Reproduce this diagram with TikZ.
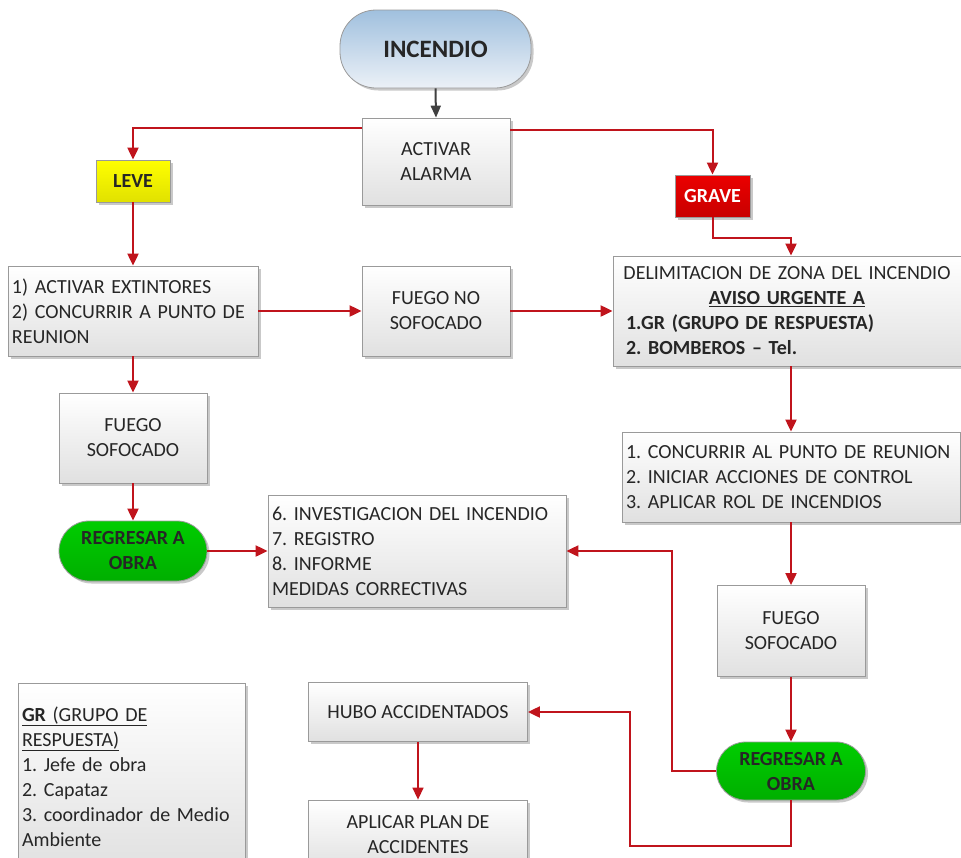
\documentclass[tikz,border=0pt]{standalone}
\usepackage{fontspec}
\setmainfont{Carlito}
\usetikzlibrary{arrows.meta,shadows,calc}
\definecolor{linered}{HTML}{C0141C}
\definecolor{boxborder}{HTML}{9A9A9A}
\tikzset{
  base/.style={draw=boxborder, line width=0.8pt, font=\fontsize{20}{25}\selectfont, text=black!85, inner sep=4pt,
     drop shadow={shadow xshift=2.5pt, shadow yshift=-2.5pt, opacity=0.35, fill=black!60}},
  gbox/.style={base, rectangle, top color=white, bottom color=black!12, align=center},
  lbox/.style={gbox, align=left},
  stadium/.style={base, rounded corners=#1},
  redarr/.style={draw=linered, line width=2pt, -{Triangle[length=12pt,width=11pt]}},
  grayarr/.style={draw=black!75, line width=2pt, -{Triangle[length=12pt,width=10pt]}},
}
\frenchspacing
\begin{document}
\begin{tikzpicture}[x=1pt,y=-1pt]
\useasboundingbox[fill=white] (0,0) rectangle (961,857);

\node[stadium=36pt, top color={rgb,255:red,160;green,192;blue,222}, bottom color={rgb,255:red,236;green,241;blue,247}, minimum width=191pt, minimum height=78pt, font=\fontsize{25}{28}\selectfont\bfseries] (inc) at (435.5,49) {INCENDIO};
\node[gbox, minimum width=148pt, minimum height=87pt] (act) at (436,161.5) {ACTIVAR\\ALARMA};
\node[base, top color=yellow, bottom color={rgb,255:red,225;green,225;blue,0}, minimum width=74pt, minimum height=42pt, font=\fontsize{20}{22}\selectfont\bfseries] (leve) at (133,181) {LEVE};
\node[base, top color={rgb,255:red,235;green,0;blue,0}, bottom color={rgb,255:red,200;green,0;blue,0}, text=white, minimum width=75pt, minimum height=42pt, font=\fontsize{20}{22}\selectfont\bfseries] (grave) at (712.5,196) {GRAVE};

\node[lbox, minimum width=250pt, minimum height=90pt, text width=242pt] (b1) at (133,311) {1) ACTIVAR EXTINTORES\\2) CONCURRIR A PUNTO DE\\REUNION\\[-4pt]};
\node[gbox, minimum width=148pt, minimum height=90pt] (fns) at (436,311) {FUEGO NO\\SOFOCADO};
\node[lbox, minimum width=348pt, minimum height=110pt, text width=340pt] (del) at (787,311) {\makebox[340pt][c]{DELIMITACION DE ZONA DEL INCENDIO}\\\makebox[340pt][c]{\textbf{\underline{AVISO URGENTE A}}}\\\hspace*{9pt}\textbf{1.GR (GRUPO DE RESPUESTA)}\\\hspace*{9pt}\textbf{2. BOMBEROS – Tel.}};
\node[lbox, minimum width=338pt, minimum height=90pt, text width=330pt] (con) at (791,477) {1. CONCURRIR AL PUNTO DE REUNION\\2. INICIAR ACCIONES DE CONTROL\\3. APLICAR ROL DE INCENDIOS};
\node[gbox, minimum width=148pt, minimum height=90pt] (fs1) at (133,438) {FUEGO\\SOFOCADO};
\node[stadium=30pt, top color={rgb,255:red,0;green,205;blue,0}, bottom color={rgb,255:red,0;green,175;blue,0}, minimum width=148pt, minimum height=60pt, align=center, font=\fontsize{20}{25}\selectfont\bfseries] (reg1) at (133,551) {REGRESAR A\\OBRA};
\node[lbox, minimum width=298pt, minimum height=112pt, text width=290pt] (inv) at (417,551) {6. INVESTIGACION DEL INCENDIO\\7. REGISTRO\\8. INFORME\\MEDIDAS CORRECTIVAS};
\node[gbox, minimum width=148pt, minimum height=91pt] (fs2) at (791,631) {FUEGO\\SOFOCADO};
\node[stadium=29pt, top color={rgb,255:red,0;green,205;blue,0}, bottom color={rgb,255:red,0;green,175;blue,0}, minimum width=149pt, minimum height=58pt, align=center, font=\fontsize{20}{25}\selectfont\bfseries] (reg2) at (791,771) {REGRESAR A\\OBRA};
\node[gbox, minimum width=219pt, minimum height=59pt] (hubo) at (418,712) {HUBO ACCIDENTADOS};
\node[gbox, minimum width=219pt, minimum height=70pt] (apl) at (418,835) {APLICAR PLAN DE\\ACCIDENTES};
\node[lbox, minimum width=227pt, minimum height=187pt, text width=219pt] (gr) at (131.5,776.5) {\underline{\textbf{GR} (GRUPO DE}\\\underline{RESPUESTA)}\\1. Jefe de obra\\2. Capataz\\3. coordinador de Medio\\Ambiente\\[10pt]};

\draw[grayarr] (inc.south) -- (act.north);
\draw[redarr] ([yshift=-10pt]act.north west) -| (leve.north);
\draw[redarr] ([yshift=-12pt]act.north east) -| (grave.north);
\draw[redarr] (grave.south) -- ++(0,21) -| (con.north |- del.north);
\draw[redarr] (leve.south) -- (b1.north);
\draw[redarr] (b1.east) -- (fns.west);
\draw[redarr] (fns.east) -- (del.west);
\draw[redarr] (con.north |- del.south) -- (con.north);
\draw[redarr] (con.south) -- (fs2.north);
\draw[redarr] (fs2.south) -- (reg2.north);
\draw[redarr] (b1.south) -- (fs1.north);
\draw[redarr] (fs1.south) -- (reg1.north);
\draw[redarr] (reg1.east) -- (inv.west);
\draw[redarr] (reg2.west) -- ++(-44,0) |- (inv.east);
\draw[redarr] (reg2.south) -- ++(0,46) -| ([xshift=102pt]hubo.east) -- (hubo.east);
\draw[redarr, line width=1.4pt] (hubo.south) -- (apl.north);
\end{tikzpicture}
\end{document}
